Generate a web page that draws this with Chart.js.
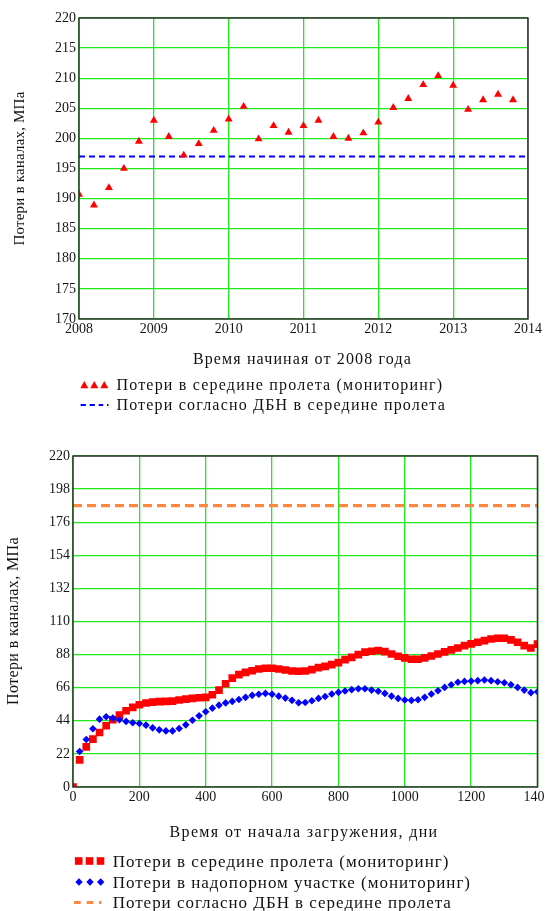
<!DOCTYPE html>
<html>
<head>
<meta charset="utf-8">
<script src="https://cdn.jsdelivr.net/npm/chart.js@4/dist/chart.umd.min.js"></script>
<style>
  html, body { margin: 0; padding: 0; background: #fff; }
  body { width: 545px; height: 911px; overflow: hidden; position: relative; }
  canvas { position: absolute; left: 0; }
  #c1 { top: 0; }
  #c2 { top: 440px; }
  .lbl { position: absolute; white-space: nowrap; line-height: 1; font-family: "Liberation Serif", serif; color: #111; }
  svg { position: absolute; overflow: visible; }
</style>
</head>
<body>
<canvas id="c1" width="560" height="341" style="width:560px;height:341px"></canvas>
<canvas id="c2" width="560" height="369" style="width:560px;height:369px"></canvas>
<script>
// ── chart 1: monitoring since 2008 ──
const years1 = [2008.0, 2008.2, 2008.4, 2008.6, 2008.8, 2009.0, 2009.2, 2009.4, 2009.6, 2009.8,
  2010.0, 2010.2, 2010.4, 2010.6, 2010.8, 2011.0, 2011.2, 2011.4, 2011.6, 2011.8,
  2012.0, 2012.2, 2012.4, 2012.6, 2012.8, 2013.0, 2013.2, 2013.4, 2013.6, 2013.8];
const loss1 = [190.7, 188.9, 191.8, 195.0, 199.5, 203.0, 200.3, 197.2, 199.1, 201.3,
  203.2, 205.3, 199.9, 202.1, 201.0, 202.1, 203.0, 200.3, 200.0, 200.9,
  202.7, 205.1, 206.6, 208.9, 210.4, 208.8, 204.8, 206.4, 207.3, 206.4];
const dbn1 = 197;
const xTicks1 = ["2008", "2009", "2010", "2011", "2012", "2013", "2014"];
const yTicks1 = ["170", "175", "180", "185", "190", "195", "200", "205", "210", "215", "220"];

// ── chart 2: days since loading ──
const days2 = [0, 20, 40, 60, 80, 100, 120, 140, 160, 180,
  200, 220, 240, 260, 280, 300, 320, 340, 360, 380,
  400, 420, 440, 460, 480, 500, 520, 540, 560, 580,
  600, 620, 640, 660, 680, 700, 720, 740, 760, 780,
  800, 820, 840, 860, 880, 900, 920, 940, 960, 980,
  1000, 1020, 1040, 1060, 1080, 1100, 1120, 1140, 1160, 1180,
  1200, 1220, 1240, 1260, 1280, 1300, 1320, 1340, 1360, 1380, 1400];
const midSpan2 = [0, 18, 26.7, 31.8, 36.2, 40.7, 44.7, 47.8, 50.7, 52.9,
  54.7, 55.8, 56.4, 56.7, 56.9, 57.1, 57.8, 58.4, 58.9, 59.3,
  59.6, 61.3, 64.4, 68.6, 72.4, 74.7, 76.2, 77.3, 78.4, 78.9,
  78.9, 78.4, 77.8, 77.1, 76.9, 77.1, 78.0, 79.3, 80.2, 81.3,
  82.7, 84.7, 86.2, 88.0, 89.6, 90.2, 90.7, 90.0, 88.4, 86.9,
  85.8, 84.9, 84.9, 85.8, 87.1, 88.4, 89.8, 91.1, 92.4, 94.0,
  95.1, 96.2, 97.3, 98.4, 98.9, 98.9, 97.8, 96.2, 94.0, 92.4, 95.0];
// support zone series starts at day 20
const support2 = [23.6, 31.6, 38.7, 45.1, 46.7, 45.8, 44.7, 43.6, 42.7, 42.2,
  41.1, 39.3, 38.0, 37.3, 37.3, 38.9, 41.3, 44.4, 47.3, 50.0,
  52.4, 54.4, 55.9, 56.9, 58.2, 59.6, 60.9, 61.6, 62.2, 61.6,
  60.4, 59.1, 57.6, 56.0, 56.2, 57.3, 58.9, 60.2, 61.8, 62.9,
  63.8, 64.7, 65.3, 65.3, 64.4, 63.6, 62.2, 60.4, 58.9, 57.8,
  57.6, 58.0, 59.6, 61.8, 64.0, 66.2, 68.0, 69.6, 70.2, 70.4,
  70.7, 71.1, 70.7, 70.0, 69.3, 68.0, 66.2, 64.4, 62.7, 63.3];
const dbn2 = 187;
const xTicks2 = ["0", "200", "400", "600", "800", "1000", "1200", "1400"];
const yTicks2 = ["0", "22", "44", "66", "88", "110", "132", "154", "176", "198", "220"];

const GRID = "rgb(30,235,30)";
const INK = "#161616";
Chart.defaults.font.family = "'Liberation Serif', serif";
Chart.defaults.font.size = 14;
Chart.defaults.color = INK;
Chart.defaults.animation = false;

// full frame round the plot area
const frame = {
  id: "frame",
  afterDatasetsDraw(chart) {
    const a = chart.chartArea, ctx = chart.ctx;
    ctx.save();
    ctx.strokeStyle = "#333";
    ctx.lineWidth = 1.5;
    ctx.strokeRect(a.left, a.top, a.right - a.left, a.bottom - a.top);
    ctx.restore();
  },
};

function axes(xMin, xMax, xLabels, yMin, yMax, yLabels, yWidth) {
  return {
    x: {
      type: "linear", min: xMin, max: xMax,
      afterFit: (s) => { s.height = 22; },
      afterBuildTicks: (s) => { s.ticks = xLabels.map((t) => ({ value: +t })); },
      ticks: { padding: 2, maxRotation: 0, autoSkip: false, callback: (v, i) => xLabels[i] },
      grid: { color: GRID, lineWidth: 1.3, drawTicks: false },
      border: { display: false },
    },
    y: {
      type: "linear", min: yMin, max: yMax,
      afterFit: (s) => { s.width = yWidth; },
      afterBuildTicks: (s) => { s.ticks = yLabels.map((t) => ({ value: +t })); },
      ticks: { padding: 3, autoSkip: false, callback: (v, i) => yLabels[i] },
      grid: { color: GRID, lineWidth: 1.3, drawTicks: false },
      border: { display: false },
    },
  };
}

new Chart(document.getElementById("c1"), {
  type: "scatter",
  data: {
    datasets: [
      {
        label: "Потери в середине пролета (мониторинг)",
        data: years1.map((x, i) => ({ x, y: loss1[i] })),
        pointStyle: "triangle", pointRadius: 4.6,
        backgroundColor: "#ff0000", borderColor: "#ff0000", borderWidth: 0,
        clip: 0,
      },
      {
        label: "Потери согласно ДБН в середине пролета",
        data: [{ x: 2008, y: dbn1 }, { x: 2014, y: dbn1 }],
        showLine: true, pointRadius: 0,
        borderColor: "#0000ff", borderWidth: 2, borderDash: [6, 4],
      },
    ],
  },
  options: {
    responsive: false,
    layout: { padding: { top: 18, right: 32, bottom: 0, left: 0 } },
    plugins: { legend: { display: false }, tooltip: { enabled: false } },
    scales: axes(2008, 2014, xTicks1, 170, 220, yTicks1, 79),
  },
  plugins: [frame],
});

new Chart(document.getElementById("c2"), {
  type: "scatter",
  data: {
    datasets: [
      {
        label: "Потери в надопорном участке (мониторинг)",
        data: support2.map((y, i) => ({ x: days2[i + 1], y })),
        pointStyle: "rectRot", pointRadius: 3.8,
        backgroundColor: "#0000ff", borderColor: "#0000ff", borderWidth: 0,
        clip: 0,
      },
      {
        label: "Потери в середине пролета (мониторинг)",
        data: days2.map((x, i) => ({ x, y: midSpan2[i] })),
        pointStyle: "rect", pointRadius: 5.4,
        backgroundColor: "#ff0000", borderColor: "#ff0000", borderWidth: 0,
        clip: 0,
      },
      {
        label: "Потери согласно ДБН в середине пролета",
        data: [{ x: 0, y: dbn2 }, { x: 1400, y: dbn2 }],
        showLine: true, pointRadius: 0,
        borderColor: "rgb(255,136,64)", borderWidth: 3.2, borderDash: [9, 5],
      },
    ],
  },
  options: {
    responsive: false,
    layout: { padding: { top: 16, right: 22.5, bottom: 0, left: 0 } },
    plugins: { legend: { display: false }, tooltip: { enabled: false } },
    scales: axes(0, 1400, xTicks2, 0, 220, yTicks2, 73),
  },
  plugins: [frame],
});

// ── titles and legends as html text, stretched to the reference widths ──
function addText(txt, o) {
  const el = document.createElement("div");
  el.className = "lbl";
  el.textContent = txt;
  el.style.fontSize = o.size + "px";
  document.body.appendChild(el);
  const w0 = el.getBoundingClientRect().width;
  el.style.letterSpacing = (o.width - w0) / txt.length + "px";
  const w = el.getBoundingClientRect().width;
  if (o.rotate) {
    el.style.left = o.cx - w / 2 + "px";
    el.style.top = o.cy - o.size / 2 + "px";
    el.style.transform = "rotate(-90deg)";
  } else {
    const left = o.left !== undefined ? o.left : o.cx - o.width / 2;
    el.style.left = left + "px";
    el.style.top = o.cy - o.size / 2 + "px";
  }
}

function marker(svg, shape, color, cx, cy, s) {
  const ns = "http://www.w3.org/2000/svg";
  let el;
  if (shape === "tri") {
    el = document.createElementNS(ns, "polygon");
    el.setAttribute("points", `${cx - s / 2},${cy + s * 0.42} ${cx + s / 2},${cy + s * 0.42} ${cx},${cy - s * 0.5}`);
  } else if (shape === "sq") {
    el = document.createElementNS(ns, "rect");
    el.setAttribute("x", cx - s / 2); el.setAttribute("y", cy - s / 2);
    el.setAttribute("width", s); el.setAttribute("height", s);
  } else if (shape === "dia") {
    el = document.createElementNS(ns, "polygon");
    el.setAttribute("points", `${cx - s / 2},${cy} ${cx},${cy - s / 2} ${cx + s / 2},${cy} ${cx},${cy + s / 2}`);
  }
  el.setAttribute("fill", color);
  svg.appendChild(el);
}

function dashes(svg, color, y, segs, w) {
  const ns = "http://www.w3.org/2000/svg";
  segs.forEach(([a, b]) => {
    const r = document.createElementNS(ns, "rect");
    r.setAttribute("x", a); r.setAttribute("y", y - w / 2);
    r.setAttribute("width", b - a); r.setAttribute("height", w);
    r.setAttribute("fill", color);
    svg.appendChild(r);
  });
}

const svg = document.createElementNS("http://www.w3.org/2000/svg", "svg");
svg.setAttribute("width", 545); svg.setAttribute("height", 911);
svg.style.left = "0px"; svg.style.top = "0px";
document.body.appendChild(svg);

// chart 1 texts
addText("Потери в каналах, МПа", { size: 15, width: 154, cx: 18.5, cy: 168, rotate: true });
addText("Время начиная от 2008 года", { size: 16, width: 219, cx: 302.4, cy: 359 });
[84.3, 94.3, 104.3].forEach((x) => marker(svg, "tri", "#ff0000", x, 385, 8));
addText("Потери в середине пролета (мониторинг)", { size: 16, width: 327, left: 116.4, cy: 385 });
dashes(svg, "#0000ff", 405, [[80.6, 85.9], [89.7, 94.9], [98.7, 103.2], [107, 108.5]], 2);
addText("Потери согласно ДБН в середине пролета", { size: 16, width: 329.6, left: 116.4, cy: 405 });

// chart 2 texts
addText("Потери в каналах, МПа", { size: 16, width: 168, cx: 12.5, cy: 621, rotate: true });
addText("Время от начала загружения, дни", { size: 16, width: 269, cx: 304, cy: 831.7 });
[78.7, 89.5, 100.5].forEach((x) => marker(svg, "sq", "#ff0000", x, 861, 7.6));
addText("Потери в середине пролета (мониторинг)", { size: 17, width: 336.7, left: 112.7, cy: 861 });
[79, 90, 100.7].forEach((x) => marker(svg, "dia", "#0000ff", x, 882, 7.4));
addText("Потери в надопорном участке (мониторинг)", { size: 17, width: 358.3, left: 112.7, cy: 882 });
dashes(svg, "rgb(255,136,64)", 902.5, [[74, 80.7], [86.7, 93.3], [99, 101.3]], 3);
addText("Потери согласно ДБН в середине пролета", { size: 17, width: 339.2, left: 112.7, cy: 902.5 });
</script>
</body>
</html>
